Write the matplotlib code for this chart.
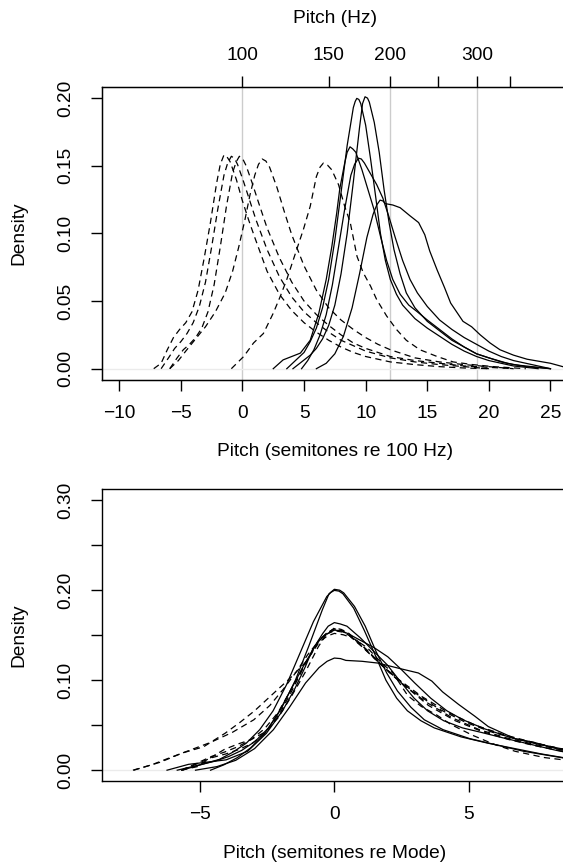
import numpy as np
import matplotlib.pyplot as plt

plt.rcParams['font.family'] = ['Liberation Sans', 'DejaVu Sans']
FS = 13.8

# low voices (dashed) -- pitch in semitones re 100 Hz, density
d1_x = [-7.2, -6.6, -6.1, -5.6, -5.1, -4.6, -4.1, -3.6, -3.1, -2.6, -2.1, -1.8, -1.5, -1.25, -1.0, -0.5, 0.0,
        0.5, 1.0, 2.0, 3.0, 4.0, 5.0, 6.0, 7.0, 8.0, 9.0, 10.0, 12.0, 14.0, 16.0, 18.0, 20.0]
d1_y = [0.0, 0.004, 0.014, 0.023, 0.029, 0.034, 0.042, 0.058, 0.082, 0.108, 0.137, 0.151, 0.158, 0.1565, 0.153,
        0.140, 0.124, 0.110, 0.097, 0.072, 0.055, 0.043, 0.034, 0.027, 0.021, 0.016, 0.012, 0.009, 0.005, 0.003,
        0.0015, 0.0005, 0.0]
d2_x = [-6.6, -6.0, -5.5, -5.0, -4.5, -4.0, -3.5, -3.0, -2.5, -2.0, -1.5, -1.2, -0.9, -0.65, -0.4, 0.1, 0.6,
        1.1, 2.0, 3.0, 4.0, 5.0, 6.0, 7.0, 8.0, 9.0, 10.0, 12.0, 14.0, 16.0, 18.0, 20.0]
d2_y = [0.0, 0.008, 0.015, 0.020, 0.026, 0.034, 0.046, 0.064, 0.090, 0.118, 0.143, 0.152, 0.157, 0.1555, 0.151,
        0.138, 0.124, 0.110, 0.088, 0.068, 0.053, 0.042, 0.034, 0.027, 0.021, 0.017, 0.013, 0.008, 0.005, 0.003,
        0.0015, 0.0]
d3_x = [-5.9, -5.3, -4.8, -4.3, -3.8, -3.3, -2.8, -2.3, -1.8, -1.3, -0.8, -0.5, -0.25, 0.0, 0.3, 0.8, 1.3,
        2.0, 3.0, 4.0, 5.0, 6.0, 7.0, 8.0, 9.0, 10.0, 12.0, 14.0, 16.0, 18.0, 20.0, 22.0]
d3_y = [0.0, 0.008, 0.014, 0.018, 0.023, 0.030, 0.042, 0.062, 0.090, 0.120, 0.145, 0.153, 0.157, 0.1555, 0.150,
        0.137, 0.123, 0.104, 0.082, 0.064, 0.050, 0.040, 0.032, 0.025, 0.019, 0.015, 0.009, 0.006, 0.004, 0.002,
        0.001, 0.0]
d4_x = [-5.9, -5.2, -4.6, -3.8, -3.0, -2.2, -1.4, -0.8, -0.3, 0.2, 0.6, 1.0, 1.3, 1.6, 1.9, 2.2, 2.8, 3.4,
        4.0, 5.0, 6.0, 7.0, 8.0, 9.0, 10.0, 11.0, 12.0, 14.0, 16.0, 18.0, 20.0, 22.0]
d4_y = [0.0, 0.006, 0.013, 0.022, 0.031, 0.042, 0.056, 0.072, 0.090, 0.110, 0.128, 0.143, 0.151, 0.155, 0.1535,
        0.149, 0.134, 0.116, 0.099, 0.076, 0.058, 0.045, 0.036, 0.029, 0.023, 0.018, 0.014, 0.008, 0.005, 0.003,
        0.0015, 0.0]
d5_x = [-0.9, 0.1, 0.9, 1.7, 2.5, 3.05, 3.6, 4.4, 4.95, 5.5, 6.0, 6.3, 6.57, 6.9, 7.25, 7.8, 8.3, 8.75, 9.3,
        9.8, 10.4, 10.9, 11.7, 12.5, 13.3, 14.4, 15.8, 17.1, 18.7, 20.4, 23.0]
d5_y = [0.0, 0.009, 0.019, 0.026, 0.041, 0.053, 0.066, 0.088, 0.103, 0.120, 0.142, 0.149, 0.152, 0.1505, 0.147,
        0.136, 0.120, 0.108, 0.083, 0.071, 0.061, 0.051, 0.039, 0.029, 0.021, 0.014, 0.009, 0.005, 0.003, 0.0015,
        0.0]

# high voices (solid)
s1_x = [4.1, 4.8, 5.5, 6.0, 6.5, 7.0, 7.5, 8.0, 8.5, 9.0, 9.5, 9.75, 9.95, 10.15, 10.3, 10.7, 11.1, 11.5,
        11.9, 12.3, 12.8, 13.3, 14.0, 15.0, 16.0, 17.0, 18.0, 19.0, 20.0, 21.0, 22.0, 23.5, 25.0]
s1_y = [0.0, 0.005, 0.010, 0.015, 0.022, 0.032, 0.047, 0.070, 0.100, 0.138, 0.178, 0.196, 0.201, 0.200, 0.197,
        0.182, 0.160, 0.132, 0.108, 0.088, 0.070, 0.056, 0.045, 0.035, 0.028, 0.021, 0.016, 0.011, 0.008, 0.005,
        0.003, 0.0015, 0.0]
s2_x = [3.6, 4.3, 5.0, 5.5, 6.0, 6.5, 7.0, 7.5, 8.0, 8.5, 9.0, 9.15, 9.28, 9.45, 9.6, 10.0, 10.4, 10.8, 11.2,
        11.6, 12.0, 12.5, 13.0, 14.0, 15.0, 16.0, 17.0, 18.0, 19.0, 20.0, 22.0, 24.0]
s2_y = [0.0, 0.006, 0.012, 0.020, 0.030, 0.045, 0.066, 0.095, 0.130, 0.165, 0.193, 0.1975, 0.1998, 0.199, 0.196,
        0.180, 0.155, 0.128, 0.100, 0.080, 0.066, 0.055, 0.047, 0.037, 0.030, 0.024, 0.018, 0.013, 0.009, 0.006,
        0.002, 0.0]
s3_x = [2.5, 3.3, 4.0, 4.7, 5.5, 6.2, 6.8, 7.25, 7.65, 7.9, 8.3, 8.5, 8.73, 8.95, 9.2, 9.7, 10.2, 10.7, 11.2,
        11.7, 12.2, 12.8, 13.5, 14.2, 15.0, 16.0, 17.0, 18.0, 19.0, 20.0, 21.5, 23.0, 25.0]
s3_y = [0.0, 0.0065, 0.009, 0.0115, 0.021, 0.041, 0.066, 0.090, 0.115, 0.133, 0.152, 0.160, 0.164, 0.1625,
        0.160, 0.147, 0.132, 0.117, 0.098, 0.080, 0.066, 0.055, 0.047, 0.042, 0.036, 0.029, 0.022, 0.016, 0.011,
        0.008, 0.004, 0.0015, 0.0]
s4_x = [4.8, 5.3, 5.8, 6.3, 6.8, 7.3, 7.8, 8.3, 8.8, 9.1, 9.41, 9.65, 9.9, 10.4, 10.9, 11.4, 11.9, 12.4, 13.0,
        13.6, 14.2, 15.0, 16.0, 17.0, 18.0, 19.0, 20.0, 21.0, 22.0, 23.5, 25.0]
s4_y = [0.0, 0.006, 0.014, 0.025, 0.040, 0.062, 0.090, 0.118, 0.143, 0.151, 0.1556, 0.155, 0.152, 0.144, 0.136,
        0.126, 0.112, 0.097, 0.080, 0.066, 0.056, 0.046, 0.036, 0.029, 0.023, 0.018, 0.013, 0.009, 0.006, 0.003,
        0.0]
s5_x = [6.0, 6.8, 7.5, 8.2, 8.9, 9.5, 10.1, 10.6, 10.9, 11.17, 11.4, 11.6, 12.2, 12.8, 13.6, 14.3, 14.8, 15.2,
        15.8, 16.4, 16.9, 17.9, 18.6, 19.3, 20.1, 20.9, 22.0, 23.1, 25.0, 26.0]
s5_y = [0.0, 0.004, 0.011, 0.024, 0.045, 0.070, 0.097, 0.114, 0.121, 0.1246, 0.124, 0.122, 0.121, 0.119, 0.113,
        0.108, 0.099, 0.087, 0.073, 0.060, 0.0485, 0.035, 0.031, 0.025, 0.019, 0.014, 0.010, 0.007, 0.004, 0.0015]

low_voices = [(d1_x, d1_y), (d2_x, d2_y), (d3_x, d3_y), (d4_x, d4_y), (d5_x, d5_y)]
high_voices = [(s1_x, s1_y), (s2_x, s2_y), (s3_x, s3_y), (s4_x, s4_y), (s5_x, s5_y)]

hz_ticks = [100, 150, 200, 250, 300, 350]
hz_labels = ['100', '150', '200', '', '300', '']
hz_grid = [100, 200, 300]

W, H = 563, 865
fig = plt.figure(figsize=(W / 100, H / 100), dpi=100)


def add_ax(left, top, right, bottom):
    return fig.add_axes([left / W, 1 - bottom / H, (right - left) / W, (bottom - top) / H])


def style(ax):
    for s in ax.spines.values():
        s.set_linewidth(1.0)
    ax.tick_params(direction='out', length=8, width=1, labelsize=FS)
    ax.tick_params(axis='x', pad=10)
    ax.tick_params(axis='y', pad=12, labelrotation=90)
    for lbl in ax.get_yticklabels():
        lbl.set_va('center')
    ax.set_ylabel('Density', fontsize=FS, va='center')
    ax.yaxis.set_label_coords(-0.179, 0.5)


dash = (5, 3.5)

# top panel: semitones re 100 Hz
ax1 = add_ax(102, 87.3, 567.7, 379.5)
ax1.set_xlim(-11.4, 26.4)
ax1.set_ylim(-0.008, 0.208)
for f in hz_grid:
    ax1.axvline(12 * np.log2(f / 100), color='0.8', lw=1.0, zorder=1)
ax1.axhline(0, color='0.92', lw=1.0, zorder=1)
for x, y in low_voices:
    ax1.plot(x, y, color='black', lw=0.9, dashes=dash, zorder=3)
for x, y in high_voices:
    ax1.plot(x, y, color='black', lw=0.9, zorder=3)
ax1.set_xticks(range(-10, 26, 5))
ax1.set_xticklabels(['\u221210', '\u22125', '0', '5', '10', '15', '20', '25'])
ax1.set_yticks(np.arange(0, 0.21, 0.05))
ax1.set_yticklabels(['0.00', '0.05', '0.10', '0.15', '0.20'])
style(ax1)
ax1.set_xlabel('Pitch (semitones re 100 Hz)', fontsize=FS, va='center')
ax1.xaxis.set_label_coords(0.5, -0.248)

top = ax1.twiny()
top.set_xlim(ax1.get_xlim())
top.set_xticks(12 * np.log2(np.array(hz_ticks) / 100))
top.set_xticklabels(hz_labels)
top.tick_params(direction='out', length=8, width=1, labelsize=FS, pad=9)
top.set_xlabel('Pitch (Hz)', fontsize=FS, va='center')
top.xaxis.set_label_coords(0.5, 1.234)

# bottom panel: semitones re mode
ax2 = add_ax(102.3, 489.4, 566.4, 781)
ax2.set_xlim(-8.64, 8.64)
ax2.set_ylim(-0.012, 0.312)
ax2.axhline(0, color='0.92', lw=1.0, zorder=1)
for x, y in low_voices:
    mode = x[int(np.argmax(y))]
    ax2.plot(np.array(x) - mode, y, color='black', lw=0.9, dashes=dash, zorder=3)
for x, y in high_voices:
    mode = x[int(np.argmax(y))]
    ax2.plot(np.array(x) - mode, y, color='black', lw=0.9, zorder=3)
ax2.set_xticks([-5, 0, 5])
ax2.set_xticklabels(['\u22125', '0', '5'])
ax2.set_yticks(np.arange(0, 0.31, 0.05))
ax2.set_yticklabels(['0.00', '', '0.10', '', '0.20', '', '0.30'])
style(ax2)
ax2.set_xlabel('Pitch (semitones re Mode)', fontsize=FS, va='center')
ax2.xaxis.set_label_coords(0.5, -0.247)

fig.savefig('out.png', dpi=100)
